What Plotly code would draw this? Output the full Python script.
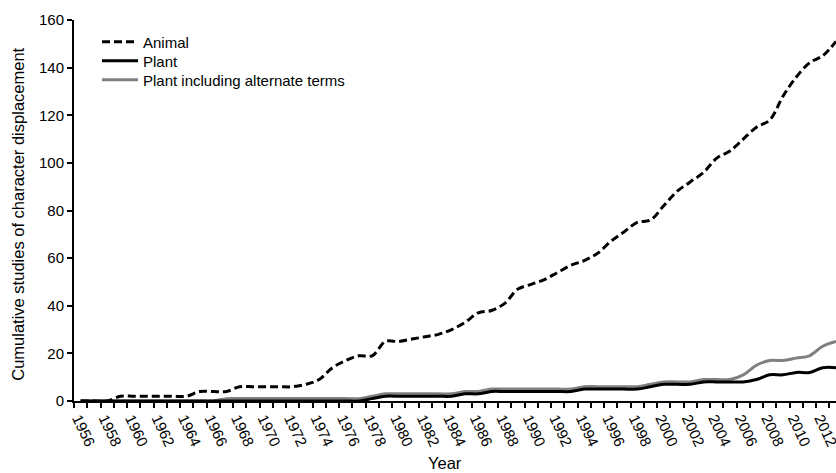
import plotly.graph_objects as go

years = list(range(1956, 2014))

animal = [0, 0, 0, 2, 2, 2, 2, 2, 2, 4,
          4, 4, 6, 6, 6, 6, 6, 7, 9, 14,
          17, 19, 19, 25, 25, 26, 27, 28, 30, 33,
          37, 38, 41, 47, 49, 51, 54, 57, 59, 62,
          67, 71, 75, 76, 82, 88, 92, 96, 102, 105,
          110, 115, 118, 128, 136, 142, 145, 151]

plant = [0, 0, 0, 0, 0, 0, 0, 0, 0, 0,
         0, 0, 0, 0, 0, 0, 0, 0, 0, 0,
         0, 0, 1, 2, 2, 2, 2, 2, 2, 3,
         3, 4, 4, 4, 4, 4, 4, 4, 5, 5,
         5, 5, 5, 6, 7, 7, 7, 8, 8, 8,
         8, 9, 11, 11, 12, 12, 14, 14]

plant_alt = [0, 0, 0, 0, 0, 0, 0, 0, 0, 0,
             0, 1, 1, 1, 1, 1, 1, 1, 1, 1,
             1, 1, 2, 3, 3, 3, 3, 3, 3, 4,
             4, 5, 5, 5, 5, 5, 5, 5, 6, 6,
             6, 6, 6, 7, 8, 8, 8, 9, 9, 9,
             11, 15, 17, 17, 18, 19, 23, 25]

tick_years = list(range(1956, 2013, 2))
tick_labels = [str(y) for y in tick_years]

FONT = "Arial, Liberation Sans, sans-serif"

W, H = 836, 473
PLOT_L, PLOT_R = 74, 836
PLOT_T, PLOT_B = 20, 401.5
PLOT_W = PLOT_R - PLOT_L
PLOT_H = PLOT_B - PLOT_T

fig = go.Figure()
fig.add_trace(go.Scatter(x=years, y=plant_alt, mode="lines", name="Plant including alternate terms",
                         line=dict(color="#808080", width=3, shape="spline", smoothing=1),
                         legend="legend3"))
fig.add_trace(go.Scatter(x=years, y=plant, mode="lines", name="Plant",
                         line=dict(color="#000000", width=3, shape="spline", smoothing=1),
                         legend="legend2"))
fig.add_trace(go.Scatter(x=years, y=animal, mode="lines", name="Animal",
                         line=dict(color="#000000", width=3, dash="8px,4px", shape="spline", smoothing=1),
                         legend="legend"))


def leg(ypx):
    return dict(x=(97 - PLOT_L) / PLOT_W, y=(PLOT_B - ypx) / PLOT_H, xanchor="left", yanchor="middle",
                bgcolor="rgba(0,0,0,0)", font=dict(size=15), itemwidth=36)


fig.update_layout(
    width=W, height=H,
    margin=dict(l=PLOT_L, r=W - PLOT_R, t=PLOT_T, b=H - PLOT_B, autoexpand=False),
    paper_bgcolor="white", plot_bgcolor="white",
    font=dict(family=FONT, size=15, color="black"),
    showlegend=True,
    legend=leg(42), legend2=leg(61), legend3=leg(80),
    xaxis=dict(range=[1955.5, 2013.0], showgrid=False, zeroline=False, automargin=False,
               showline=True, linecolor="black", linewidth=2,
               tickvals=tick_years, ticktext=tick_labels, tickangle=65,
               ticks="outside", ticklen=1, tickcolor="rgba(0,0,0,0)",
               tickfont=dict(size=15), ticklabeloverflow="allow", ticklabelshift=-2,
               minor=dict(tick0=1955.5, dtick=1, ticks="outside", ticklen=5,
                          tickwidth=1.5, tickcolor="black", showgrid=False)),
    yaxis=dict(range=[0, 160], dtick=20, showgrid=False, zeroline=False, automargin=False,
               showline=True, linecolor="black", linewidth=2,
               ticks="outside", ticklen=5, tickwidth=1.5, tickcolor="black",
               tickfont=dict(size=15)),
    annotations=[
        dict(text="Cumulative studies of character displacement", xref="paper", yref="paper",
             x=(18 - PLOT_L) / PLOT_W, y=(PLOT_B - 215) / PLOT_H, xanchor="center", yanchor="middle",
             textangle=-90, showarrow=False, font=dict(size=16.5)),
        dict(text="Year", xref="paper", yref="paper",
             x=(445 - PLOT_L) / PLOT_W, y=(PLOT_B - 464) / PLOT_H, xanchor="center", yanchor="middle",
             showarrow=False, font=dict(size=16.5)),
    ],
)

fig.write_html(
    "out.html",
    config={"displayModeBar": False},
    post_script="document.body.style.margin='0';document.body.style.overflow='hidden';",
)
